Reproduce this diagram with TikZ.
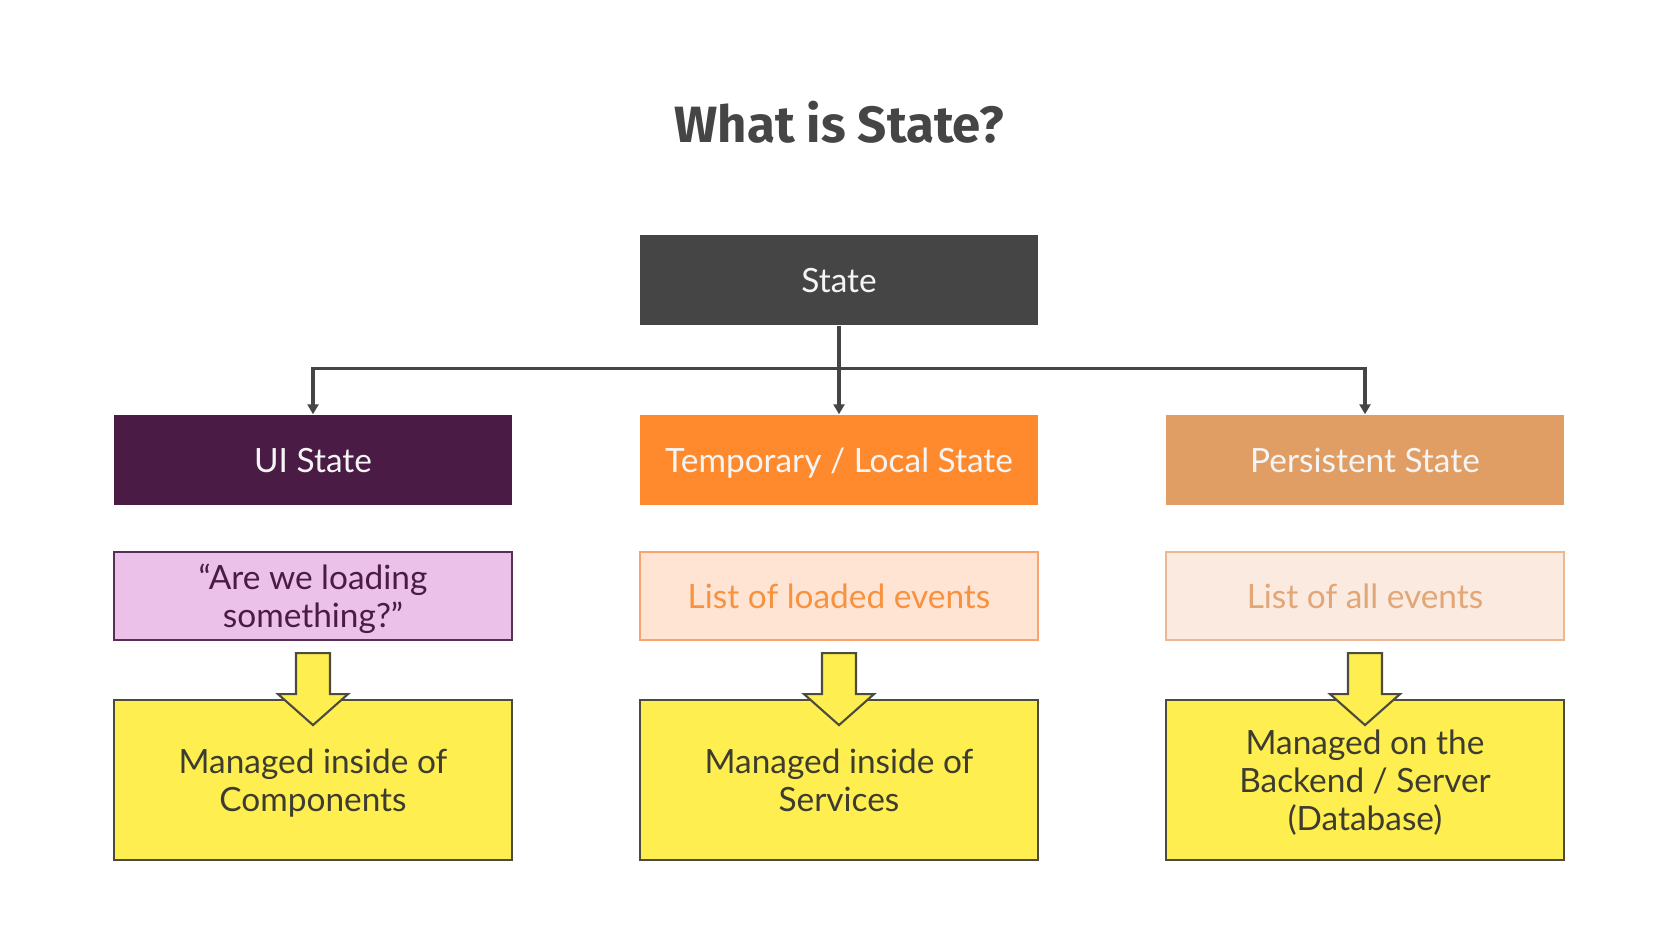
\documentclass[tikz,border=0pt]{standalone}
\usepackage{fontspec}
\setmainfont{Lato}
\newfontfamily\titlefont{Fira Sans}
\usepackage{xcolor}
\usetikzlibrary{arrows.meta}

\definecolor{stategray}{HTML}{454545}
\definecolor{uipurple}{HTML}{4A1C45}
\definecolor{temporange}{HTML}{FF8A2E}
\definecolor{persisttan}{HTML}{E09E64}
\definecolor{uipink}{HTML}{EBC0E9}
\definecolor{uiline}{HTML}{5B2D57}
\definecolor{temppale}{HTML}{FFE4D3}
\definecolor{templine}{HTML}{F8A46C}
\definecolor{temptext}{HTML}{F7923E}
\definecolor{persistpale}{HTML}{FAEAE0}
\definecolor{persistline}{HTML}{EDB791}
\definecolor{persisttext}{HTML}{E2A677}
\definecolor{manageyellow}{HTML}{FFEE50}
\definecolor{manageline}{HTML}{4B4B3E}
\definecolor{managetext}{HTML}{3C3C30}

\begin{document}
\begin{tikzpicture}[x=0.01cm, y=-0.01cm,
    box/.style={minimum width=3.98cm, minimum height=0.9cm, inner sep=0pt, align=center,
        text depth=0pt, font=\fontsize{9.5}{10.8}\selectfont},
    head/.style={box, fill=#1, text=white!96!black},
    note/.style={box, minimum height=0.88cm, line width=0.6pt},
    manage/.style={box, minimum height=1.6cm, fill=manageyellow, draw=manageline,
        line width=0.6pt, text=managetext},
    tree/.style={draw=stategray, line width=0.9pt, -{Triangle[length=0.1cm, width=0.11cm]}},
    blockarrow/.style={fill=manageyellow, draw=manageline, line width=0.6pt, line join=miter}]
    \useasboundingbox (0,0) rectangle (1670,940);

    % Title
    \node[font=\titlefont\bfseries\fontsize{14.5}{16}\selectfont, text=stategray] (title) at (839,122) {What is State?};

    % Root
    \node[head=stategray] (state) at (839,280) {State};

    % Kinds of state
    \node[head=uipurple] (headui) at (313,460) {UI State};
    \node[head=temporange] (headtemp) at (839,460) {Temporary / Local State};
    \node[head=persisttan] (headpersist) at (1365,460) {Persistent State};

    % Examples
    \node[note, fill=uipink, draw=uiline, text=uipurple] (noteui) at (313,596) {``Are we loading\\something?''};
    \node[note, fill=temppale, draw=templine, text=temptext] (notetemp) at (839,596) {List of loaded events};
    \node[note, fill=persistpale, draw=persistline, text=persisttext] (notepersist) at (1365,596) {List of all events};

    % Where it lives
    \node[manage] (manageui) at (313,780) {Managed inside of\\Components};
    \node[manage] (managetemp) at (839,780) {Managed inside of\\Services};
    \node[manage] (managepersist) at (1365,780) {Managed on the\\Backend / Server\\(Database)};

    % Tree
    \draw[tree] (state.south) -- (headtemp.north);
    \coordinate (split) at ([yshift=-0.43cm]state.south);
    \draw[tree] (split) -| (headui.north);
    \draw[tree] (split) -| (headpersist.north);

    % Block arrows
    \foreach \col in {ui,temp,persist} {
        \draw[blockarrow] (note\col.south) ++(-17,12) -- ++(0,41) -- ++(-18,0)
            -- ++(35,31) -- ++(35,-31) -- ++(-18,0) -- ++(0,-41) -- cycle;
    }
\end{tikzpicture}
\end{document}
